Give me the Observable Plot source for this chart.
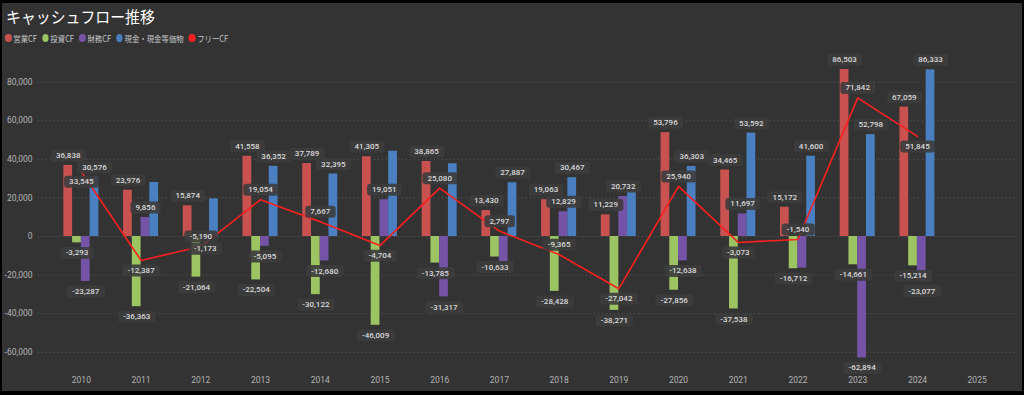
<!DOCTYPE html>
<html><head><meta charset="utf-8">
<script src="https://cdn.jsdelivr.net/npm/d3@7"></script>
<script src="https://cdn.jsdelivr.net/npm/@observablehq/plot@0.6"></script>
<style>
html,body{margin:0;padding:0;background:#000;width:1024px;height:395px;overflow:hidden;font-family:"Noto Sans CJK JP",Roboto,sans-serif;}
#panel{position:absolute;left:2px;top:3px;width:1020px;height:388px;background:#333333;}
#title{position:absolute;left:6px;top:5px;font-size:16px;line-height:22px;color:#ffffff;white-space:nowrap;transform:scaleX(0.93);transform-origin:left center;}
#legend{position:absolute;left:5px;top:32px;height:12px;display:flex;align-items:center;font-size:8.5px;color:#c8c8c8;white-space:nowrap;transform:scaleX(0.87);transform-origin:left center;}
#legend .item{display:flex;align-items:center;margin-right:6px;}
#legend .dot{width:7.5px;height:7.5px;border-radius:50%;margin-right:2px;}
#chart{position:absolute;left:0;top:45px;}
</style></head>
<body>
<div id="panel"></div>
<div id="title">キャッシュフロー推移</div>
<div id="legend"></div>
<div id="chart"></div>
<script>
// ---- data ----
const years = ["2010","2011","2012","2013","2014","2015","2016","2017","2018","2019","2020","2021","2022","2023","2024","2025"];
const seriesNames = ["営業CF","投資CF","財務CF","現金・現金等価物"];
const freeName = "フリーCF";
const opCF   = [36838, 23976, 15874, 41558, 37789, 41305, 38865, 13430, 19063, 11229, 53796, 34465, 15172, 86503, 67059];
const invCF  = [-3293, -36363, -21064, -22504, -30122, -46009, -13785, -10633, -28428, -38271, -27856, -37538, -16712, -14661, -15214];
const finCF  = [-23287, 9856, -1173, -5095, -12680, 19051, -31317, -13000, 12829, 20732, -12638, 11697, -16400, -62894, -23077];
const cashEq = [30576, 28000, 19500, 36352, 32395, 44200, 37700, 27887, 30467, 23500, 36303, 53592, 41600, 52798, 86333];
const freeCF = [33545, -12387, -5190, 19054, 7667, -4704, 25080, 2797, -9365, -27042, 25940, -3073, -1540, 71842, 51845];
const yTicks = [-60000, -40000, -20000, 0, 20000, 40000, 60000, 80000];
// labels not displayed in the reference (hidden by overlap)
const hiddenLabels = ["現金・現金等価物-2011","現金・現金等価物-2012","現金・現金等価物-2015","現金・現金等価物-2016","現金・現金等価物-2019","財務CF-2017","財務CF-2022"];
const freeLabelBelow = ["2010","2011","2015","2019","2021","2024"];

// ---- styles ----
const colors = ["#c95250","#9dc463","#7553a6","#4a80c2"];
const freeColor = "#ff1f1f";
const fmt = v => v.toLocaleString("en-US");

// legend
const legend = document.getElementById("legend");
[...seriesNames, freeName].forEach((n, i) => {
  const it = document.createElement("div"); it.className = "item";
  const d = document.createElement("div"); d.className = "dot"; d.style.background = i < 4 ? colors[i] : freeColor;
  const t = document.createElement("span"); t.textContent = n;
  it.append(d, t); legend.append(it);
});

const allSeries = [opCF, invCF, finCF, cashEq];
const xRange = [51, 1006.5];
const padInner = 0.414;
const step = (xRange[1] - xRange[0]) / years.length;
const bw = step * (1 - padInner);
const sub = bw / 4;

const marks = [Plot.ruleY(yTicks, {stroke: "#5c5c5c", strokeDasharray: "1,3", strokeWidth: 1})];
const labelMarks = [];
const labelStyle = {fill: "#dadada", fontSize: 8, fontWeight: 500, fontFamily: "Roboto, sans-serif", textAnchor: "middle", lineAnchor: "middle"};
allSeries.forEach((arr, k) => {
  const rows = arr.map((v, i) => ({year: years[i], value: v, show: !hiddenLabels.includes(seriesNames[k] + "-" + years[i])}));
  marks.push(Plot.barY(rows, {x: "year", y: "value", fill: colors[k], insetLeft: k * sub, insetRight: (3 - k) * sub}));
  labelMarks.push(Plot.text(rows.filter(d => d.show && d.value >= 0), {x: "year", y: "value", text: d => fmt(d.value), dx: (k - 1.5) * sub, dy: -10, ...labelStyle}));
  labelMarks.push(Plot.text(rows.filter(d => d.show && d.value < 0), {x: "year", y: "value", text: d => fmt(d.value), dx: (k - 1.5) * sub, dy: 10, ...labelStyle}));
});
const freeRows = freeCF.map((v, i) => ({year: years[i], value: v}));
marks.push(Plot.line(freeRows, {x: "year", y: "value", stroke: freeColor, strokeWidth: 1.6}));
labelMarks.push(Plot.text(freeRows.filter(d => !freeLabelBelow.includes(d.year)), {x: "year", y: "value", text: d => fmt(d.value), dy: -10, ...labelStyle}));
labelMarks.push(Plot.text(freeRows.filter(d => freeLabelBelow.includes(d.year)), {x: "year", y: "value", text: d => fmt(d.value), dy: 10, ...labelStyle}));

const chart = Plot.plot({
  width: 1024, height: 345,
  marginLeft: 38, marginRight: 8, marginTop: 13, marginBottom: 23,
  style: {background: "transparent", color: "#b4b4b4", fontSize: "8.5px", fontFamily: "Roboto, sans-serif"},
  x: {domain: years, range: xRange, round: false, paddingInner: padInner, paddingOuter: padInner / 2, tickSize: 0, tickPadding: 9.5, label: null},
  y: {domain: [-67876, 92228], ticks: yTicks, tickFormat: fmt, tickSize: 0, tickPadding: 6, label: null},
  marks: [...marks, ...labelMarks]
});
document.getElementById("chart").append(chart);

// rounded background boxes behind data labels
const NS = "http://www.w3.org/2000/svg";
const labelTexts = new Set([...allSeries.flat(), ...freeCF].map(fmt));
chart.querySelectorAll("text").forEach(t => {
  const g = t.parentNode;
  const aria = (g.getAttribute && g.getAttribute("aria-label")) || "";
  if (aria.includes("axis") || aria.includes("tick")) return;
  if (!labelTexts.has(t.textContent)) return;
  const b = t.getBBox();
  const r = document.createElementNS(NS, "rect");
  r.setAttribute("x", b.x - 5); r.setAttribute("y", b.y - 1.5);
  r.setAttribute("width", b.width + 10); r.setAttribute("height", b.height + 3);
  r.setAttribute("rx", 3);
  r.setAttribute("style", "fill:#3c3c3c;fill-opacity:0.9;stroke:none");
  const tr = t.getAttribute("transform"); if (tr) r.setAttribute("transform", tr);
  g.insertBefore(r, t);
});
</script>
</body></html>
